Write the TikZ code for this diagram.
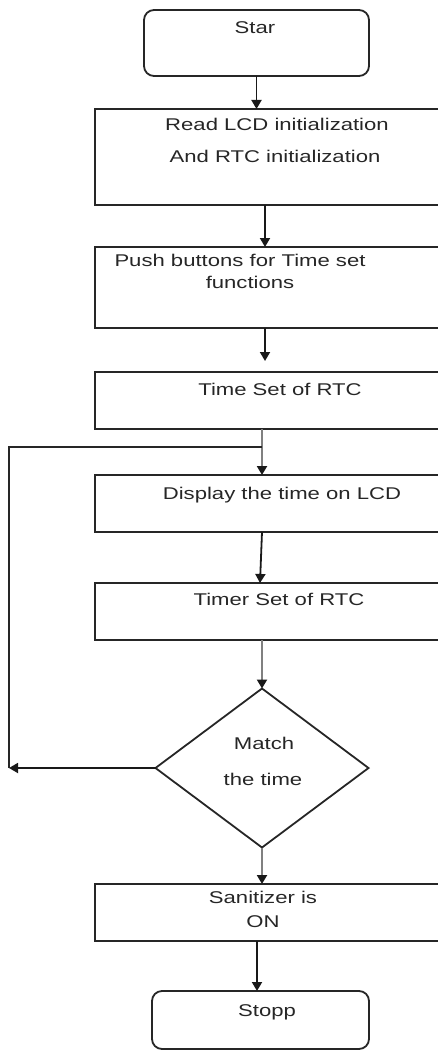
\documentclass[tikz,border=0pt]{standalone}
\usepackage{fontspec}
\setmainfont{Liberation Sans}[FakeStretch=1.3]
\usetikzlibrary{arrows.meta,shapes.geometric}
\begin{document}
\begin{tikzpicture}[x=1pt,y=-1pt,
  line width=1.8pt,
  box/.style={draw=black!85, rectangle, inner sep=0pt, outer sep=0pt},
  term/.style={draw=black!85, rectangle, rounded corners=10pt, inner sep=0pt, outer sep=0pt},
  dec/.style={draw=black!85, diamond, inner sep=0pt, outer sep=0pt},
  txt/.style={anchor=base, inner sep=0pt, text=black!85, font=\fontsize{17}{20}\selectfont},
  arr/.style={draw=black!90, line width=1.8pt, -{Triangle[length=9pt,width=10pt]}},
  garr/.style={draw=black!50, line width=2pt, -{Triangle[length=9pt,width=10pt,fill=black!90,color=black!90]}},
  loop/.style={draw=black!85, line width=1.8pt}
]
\useasboundingbox (0,0) rectangle (438,1051);

% shapes
\node[term, minimum width=225pt, minimum height=66pt] (start) at (256.5,43) {};
\node[box, minimum width=346pt, minimum height=96pt] (b1) at (268,157) {};
\node[box, minimum width=346pt, minimum height=81pt] (b2) at (268,287.5) {};
\node[box, minimum width=346pt, minimum height=57pt] (b3) at (268,400.5) {};
\node[box, minimum width=346pt, minimum height=57pt] (b4) at (268,503.5) {};
\node[box, minimum width=346pt, minimum height=57pt] (b5) at (268,611.5) {};
\node[dec, minimum width=213pt, minimum height=159pt] (d) at (262,768) {};
\node[box, minimum width=346pt, minimum height=57pt] (b6) at (268,912.5) {};
\node[term, minimum width=217pt, minimum height=58pt] (stop) at (260.5,1020) {};

% texts
\node[txt] (t0) at (255,34) {Star};
\node[txt] (t1a) at (277,131) {Read LCD initialization};
\node[txt] (t1b) at (275,163) {And RTC initialization};
\node[txt] (t2a) at (240,266) {Push buttons for Time set};
\node[txt] (t2b) at (250,288) {functions};
\node[txt] (t3) at (280,395) {Time Set of RTC};
\node[txt] (t4) at (282,499) {Display the time on LCD};
\node[txt] (t5) at (279,605) {Timer Set of RTC};
\node[txt] (td1) at (264,749) {Match};
\node[txt] (td2) at (263,785) {the time};
\node[txt] (t6a) at (263,903) {Sanitizer is};
\node[txt] (t6b) at (263,927) {ON};
\node[txt] (t7) at (267,1016) {Stopp};

% coordinates for loop
\coordinate (j) at (262,447);
\coordinate (lt) at (9,447);
\coordinate (lb) at (9,768);
\coordinate (a3) at (265,361);

% connectors
\draw[arr] (start.south) -- (start.south |- b1.north);
\draw[arr] ([xshift=-3pt]b1.south) -- ([xshift=-3pt]b2.north);
\draw[arr] ([xshift=-3pt]b2.south) -- (a3);
\draw[garr] ([xshift=-6pt]b3.south) -- ([xshift=-6pt]b4.north);
\draw[arr] ([xshift=-6pt]b4.south) -- ([xshift=-8pt]b5.north);
\draw[garr] ([xshift=-6pt]b5.south) -- (d.north);
\draw[garr] (d.south) -- (d.south |- b6.north);
\draw[arr] ([xshift=-11pt]b6.south) -- ([xshift=-11pt]b6.south |- stop.north);
\draw[arr] (d.west) -- (lb);
\draw[loop] (lb) -- (lt) -- (j);
\end{tikzpicture}
\end{document}
